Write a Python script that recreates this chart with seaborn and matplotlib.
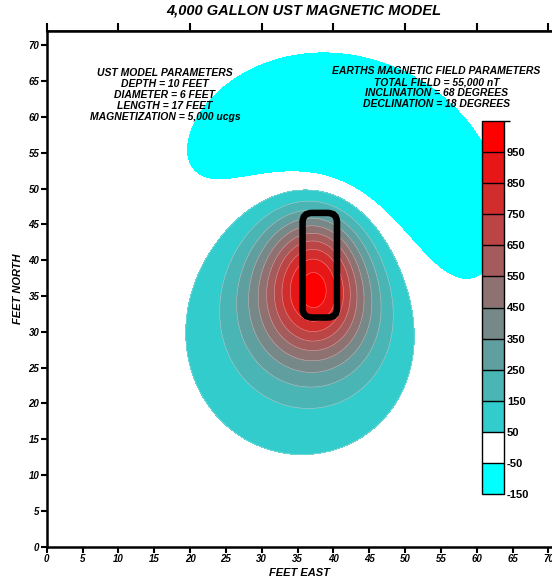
import numpy as np
import matplotlib
matplotlib.use("Agg")
import matplotlib.pyplot as plt
import seaborn as sns
from matplotlib.colors import ListedColormap, BoundaryNorm
from matplotlib.patches import FancyBboxPatch

# model parameters (from the chart text)
depth_ft = 10.0
diameter_ft = 6.0
inclination = 68.0
declination = 18.0

# tank outline as drawn (feet)
tank_x = [35.7, 40.5]
tank_y = [32.0, 46.6]

# contour levels / colours (nT)
levels = [-150, -50, 50, 150, 250, 350, 450, 550, 650, 750, 850, 950, 1050]
level_colors = ["#00ffff", "#ffffff", "#33cccc", "#4ab5b5", "#609f9f", "#778888",
                "#8e7171", "#a45b5b", "#bb4444", "#d22d2d", "#e81717", "#ff0000"]
cbar_ticks = [-150, -50, 50, 150, 250, 350, 450, 550, 650, 750, 850, 950]
peak_nt = 1000.0

ust_text = ["UST MODEL PARAMETERS", "DEPTH = 10 FEET", "DIAMETER = 6 FEET",
            "LENGTH = 17 FEET", "MAGNETIZATION = 5,000 ucgs"]
earth_text = ["EARTHS MAGNETIC FIELD PARAMETERS", "TOTAL FIELD = 55,000 nT",
              "INCLINATION = 68 DEGREES", "DECLINATION = 18 DEGREES"]

sns.set_theme(style="ticks")
plt.rcParams["font.family"] = ["Liberation Sans", "DejaVu Sans"]
plt.rcParams["text.color"] = "black"
plt.rcParams["axes.labelcolor"] = "black"
plt.rcParams["xtick.color"] = "black"
plt.rcParams["ytick.color"] = "black"
plt.rcParams["axes.unicode_minus"] = False

# induced line-of-dipoles anomaly along the tank axis
gx = np.linspace(0, 70.5, 283)
gy = np.linspace(0, 72, 289)
X, Y = np.meshgrid(gx, gy)
I = np.radians(inclination)
D = np.radians(declination)
f = np.array([np.cos(I) * np.sin(D), np.cos(I) * np.cos(D), np.sin(I)])
zc = depth_ft + diameter_ft / 2
sx = (tank_x[0] + tank_x[1]) / 2
field = np.zeros_like(X)
for sy in np.linspace(tank_y[0], tank_y[1], 40):
    rx, ry, rz = X - sx, Y - sy, -zc
    r2 = rx ** 2 + ry ** 2 + rz ** 2
    fr = f[0] * rx + f[1] * ry + f[2] * rz
    field += 3 * fr ** 2 / r2 ** 2.5 - 1 / r2 ** 1.5
field *= peak_nt / field.max()

fig = plt.figure(figsize=(5.52, 5.79), dpi=100)
ax = fig.add_axes([46.7 / 552, 32.3 / 579, 1 - 46.7 / 552, 515.7 / 579])

cmap = ListedColormap(level_colors)
cmap.set_under("#00ffff")
cmap.set_over("#ff0000")
norm = BoundaryNorm(levels, cmap.N)
ax.contourf(X, Y, field, levels=levels, cmap=cmap, norm=norm, extend="both")
ax.contour(X, Y, field, levels=levels[2:], colors="#e6e6e6", linewidths=0.4, alpha=0.6)

tank = FancyBboxPatch((tank_x[0], tank_y[0]), tank_x[1] - tank_x[0], tank_y[1] - tank_y[0],
                      boxstyle="round,pad=0,rounding_size=1.3", fill=False,
                      edgecolor="black", linewidth=4.7, zorder=5)
ax.add_patch(tank)

ax.set_xlim(0, 70.5)
ax.set_ylim(0, 72)
ax.set_xticks(np.arange(0, 71, 5))
ax.set_yticks(np.arange(0, 71, 5))
ax.tick_params(direction="out", length=4.3, width=1.5, pad=1, labelsize=7)
for lab in ax.get_xticklabels() + ax.get_yticklabels():
    lab.set_fontweight("bold")
    lab.set_fontstyle("italic")
for side in ["left", "bottom", "top"]:
    ax.spines[side].set_linewidth(1.8)
    ax.spines[side].set_color("black")
ax.spines["right"].set_visible(False)

top = ax.secondary_xaxis("top")
top.set_xticks(np.arange(0, 71, 10))
top.set_xticklabels([])
top.tick_params(direction="out", length=6, width=1.5)
top.spines["top"].set_linewidth(1.8)

ax.set_xlabel("FEET EAST", fontsize=8, fontweight="bold", fontstyle="italic", labelpad=3)
ax.set_ylabel("FEET NORTH", fontsize=8, fontweight="bold", fontstyle="italic", labelpad=4)

for i, line in enumerate(ust_text):
    ax.text(16.5, 66.1 - i * 1.53, line, ha="center", va="center", fontsize=7.5,
            fontweight="bold", fontstyle="italic")
for i, line in enumerate(earth_text):
    ax.text(54.4, 66.4 - i * 1.53, line, ha="center", va="center", fontsize=7.5,
            fontweight="bold", fontstyle="italic")

fig.text(303.7 / 552, 1 - 10.5 / 579, "4,000 GALLON UST MAGNETIC MODEL", ha="center",
         va="center", fontsize=10.5, fontweight="bold", fontstyle="italic")

cax = fig.add_axes([482 / 552, 85 / 579, 22 / 552, 373 / 579])
sm = plt.cm.ScalarMappable(cmap=ListedColormap(level_colors),
                           norm=BoundaryNorm(levels, len(level_colors)))
cb = fig.colorbar(sm, cax=cax, ticks=cbar_ticks, drawedges=True)
cb.outline.set_linewidth(1.0)
cb.outline.set_edgecolor("black")
cb.dividers.set_linewidth(1.0)
cb.dividers.set_color("black")
cb.ax.tick_params(length=0, labelsize=8, pad=2)
for lab in cb.ax.get_yticklabels():
    lab.set_fontweight("bold")

fig.savefig("out.png", dpi=100)
